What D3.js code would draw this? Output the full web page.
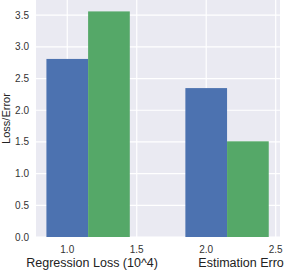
<!DOCTYPE html>
<html lang="en">
<head>
<meta charset="utf-8">
<script src="https://d3js.org/d3.v7.min.js"></script>
<style>
  body { margin: 0; background: #fff; }
  text { font-family: "Liberation Sans", Arial, sans-serif; }
</style>
</head>
<body>
<script>
// data
const groups = ["Regression Loss (10^4)", "Estimation Error"];
const groupPos = [1, 2];
const seriesA = [2.81, 2.35];   // blue
const seriesB = [3.56, 1.51];   // green
const xTicks = [1.0, 1.5, 2.0, 2.5];
const yTicks = [0, 0.5, 1.0, 1.5, 2.0, 2.5, 3.0, 3.5];
const barW = 0.3;

const w = 284, h = 270;
const margin = {left: 36, right: 4, top: 0, bottom: 33};

const svg = d3.select("body").append("svg")
  .attr("width", w).attr("height", h);

const x = d3.scaleLinear().domain([0.775, 2.531]).range([margin.left, w - margin.right]);
const y = d3.scaleLinear().domain([0, 3.74]).range([h - margin.bottom, margin.top]);

// background
svg.append("rect")
  .attr("x", margin.left).attr("y", margin.top)
  .attr("width", w - margin.right - margin.left)
  .attr("height", h - margin.bottom - margin.top)
  .attr("fill", "#eaeaf2");

// grid
svg.selectAll(".gy").data(yTicks).enter().append("line")
  .attr("x1", margin.left).attr("x2", w - margin.right)
  .attr("y1", d => y(d)).attr("y2", d => y(d))
  .attr("stroke", "#fff").attr("stroke-width", 1.2);
svg.selectAll(".gx").data(xTicks).enter().append("line")
  .attr("y1", margin.top).attr("y2", h - margin.bottom)
  .attr("x1", d => x(d)).attr("x2", d => x(d))
  .attr("stroke", "#fff").attr("stroke-width", 1.2);

// bars
svg.selectAll(".ba").data(seriesA).enter().append("rect")
  .attr("x", (d, i) => x(groupPos[i] - barW / 2))
  .attr("width", (d, i) => x(groupPos[i] + barW / 2) - x(groupPos[i] - barW / 2))
  .attr("y", d => y(d)).attr("height", d => y(0) - y(d))
  .attr("fill", "#4c72b0");
svg.selectAll(".bb").data(seriesB).enter().append("rect")
  .attr("x", (d, i) => x(groupPos[i] + barW / 2))
  .attr("width", (d, i) => x(groupPos[i] + 3 * barW / 2) - x(groupPos[i] + barW / 2))
  .attr("y", d => y(d)).attr("height", d => y(0) - y(d))
  .attr("fill", "#55a868");

// tick labels
svg.selectAll(".ty").data(yTicks).enter().append("text")
  .attr("x", margin.left - 7).attr("y", d => y(d)).attr("dy", "0.35em")
  .attr("text-anchor", "end").attr("font-size", 10).attr("fill", "#333")
  .text(d => d.toFixed(1));
svg.selectAll(".tx").data(xTicks).enter().append("text")
  .attr("x", d => x(d)).attr("y", h - margin.bottom + 16)
  .attr("text-anchor", "middle").attr("font-size", 10).attr("fill", "#333")
  .text(d => d.toFixed(1));

// group labels
svg.append("text")
  .attr("x", x(groupPos[0] + barW / 2) + 4).attr("y", h - 3)
  .attr("text-anchor", "middle").attr("font-size", 12.5).attr("fill", "#222")
  .text(groups[0]);
svg.append("text")
  .attr("x", x(groupPos[1] - barW / 2) + 13).attr("y", h - 3)
  .attr("text-anchor", "start").attr("font-size", 12.5).attr("fill", "#222")
  .text(groups[1]);

// y label
svg.append("text")
  .attr("transform", `translate(10,${y(0) / 2 + margin.top}) rotate(-90)`)
  .attr("text-anchor", "middle").attr("font-size", 11).attr("fill", "#222")
  .text("Loss/Error");
</script>
</body>
</html>
